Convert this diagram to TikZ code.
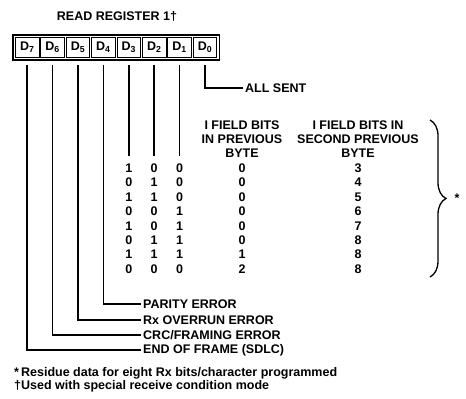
\documentclass[tikz,border=0pt]{standalone}
\usepackage{fontspec}
\setmainfont{Liberation Sans}
\usetikzlibrary{fit,calc,decorations.pathreplacing}
\begin{document}
\begin{tikzpicture}[x=1pt,y=-1pt,
  every node/.style={font=\fontsize{12.5}{14}\selectfont\bfseries, inner sep=0pt},
  cell/.style={draw, line width=1pt, minimum width=23.6pt, minimum height=20pt},
  frame/.style={draw, line width=1.5pt, inner sep=2pt},
  wire/.style={line width=1.5pt},
  lbl/.style={anchor=west, inner xsep=2pt},
  digit/.style={},
  hdr/.style={align=center},
  brc/.style={line width=1.3pt, decorate, decoration={brace, amplitude=16pt}}]
\useasboundingbox (0,0) rectangle (466,399);
\node (title) at (117,16.5) {READ REGISTER 1†};
\foreach \b [count=\k from 0] in {7,6,5,4,3,2,1,0}
  \node[cell] (d\b) at ({27.2+25.4*\k},47.5) {D\textsubscript{\b}};
\node[frame, fit=(d7)(d0)] (reg) {};
% labels
\node[lbl] (allsent) at (243,88) {ALL SENT};
\node[lbl] (parity) at (141,304) {PARITY ERROR};
\node[lbl] (overrun) at (141,320) {Rx OVERRUN ERROR};
\node[lbl] (crc) at (141,335) {CRC/FRAMING ERROR};
\node[lbl] (eof) at (141,350) {END OF FRAME (SDLC)};
% table header
\node[hdr] (h4) at (242,139) {I FIELD BITS\\IN PREVIOUS\\BYTE};
\node[hdr] (h5) at (358,139) {I FIELD BITS IN\\SECOND PREVIOUS\\BYTE};
% table rows
\foreach \a/\bb/\c/\p/\q [count=\r from 0] in
  {1/0/0/0/3, 0/1/0/0/4, 1/1/0/0/5, 0/0/1/0/6, 1/0/1/0/7, 0/1/1/0/8, 1/1/1/1/8, 0/0/0/2/8}{
  \node[digit] (t\r a) at ($(d3.center |- 0,{168.2+14.4*\r})$) {\a};
  \node[digit] (t\r b) at ($(d2.center |- 0,{168.2+14.4*\r})$) {\bb};
  \node[digit] (t\r c) at ($(d1.center |- 0,{168.2+14.4*\r})$) {\c};
  \node[digit] (t\r p) at (242,{168.2+14.4*\r}) {\p};
  \node[digit] (t\r q) at (358,{168.2+14.4*\r}) {\q};
}
% wires
\draw[wire] ($(d0.south)+(0,7)$) |- (allsent.west);
\draw[wire] ($(d1.south)+(0,7)$) -- ($(t0c.north)+(0,-8)$);
\draw[wire] ($(d2.south)+(0,7)$) -- ($(t0b.north)+(0,-8)$);
\draw[wire] ($(d3.south)+(0,7)$) -- ($(t0a.north)+(0,-8)$);
\draw[wire] ($(d4.south)+(0,7)$) |- (parity.west);
\draw[wire] ($(d5.south)+(0,7)$) |- (overrun.west);
\draw[wire] ($(d6.south)+(0,7)$) |- (crc.west);
\draw[wire] ($(d7.south)+(0,7)$) |- (eof.west);
% brace
\coordinate (btop) at (430,120);
\coordinate (bbot) at (430,277);
\draw[brc] (btop) -- (bbot);
\node (star) at (457,198) {*};
% footnotes
\node[anchor=west] (fn1) at (14,373) {*\,Residue data for eight Rx bits/character programmed};
\node[anchor=west] (fn2) at (14,386) {†Used with special receive condition mode};
\end{tikzpicture}
\end{document}
